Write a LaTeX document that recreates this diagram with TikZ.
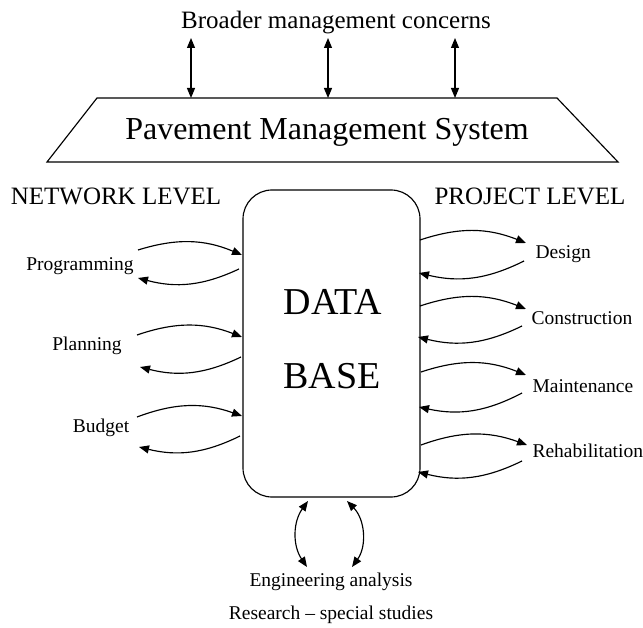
\documentclass[tikz,border=0pt]{standalone}
\usepackage{fontspec}
\setmainfont{Liberation Serif}
\usetikzlibrary{arrows.meta}
\begin{document}
\begin{tikzpicture}[x=1pt,y=-1pt, line width=1.15pt,
  arr/.style={-{Triangle[length=10pt,width=8pt]}},
  darr/.style={{Triangle[length=10pt,width=8pt]}-{Triangle[length=10pt,width=8pt]}},
  big/.style={font=\fontsize{25}{30}\selectfont, inner sep=0pt},
  small/.style={font=\fontsize{19.5}{23}\selectfont, inner sep=0pt},
  huge/.style={font=\fontsize{38}{44}\selectfont, inner sep=0pt},
  lp/.style={bend left=20}]
\useasboundingbox (0,0) rectangle (643,628);
% top
\node[big] (bmc) at (336,23) {Broader management concerns};
\coordinate (t1) at (97,98);
\coordinate (t2) at (557,98);
\coordinate (t3) at (618,162);
\coordinate (t4) at (47,162);
\draw (t1) -- (t2) -- (t3) -- (t4) -- cycle;
\node[font=\fontsize{32}{36}\selectfont, inner sep=0pt] (pms) at (327,132) {Pavement Management System};
\coordinate (u1) at (191,38); \coordinate (d1) at (191,98);
\coordinate (u2) at (328,38); \coordinate (d2) at (328,98);
\coordinate (u3) at (455,38); \coordinate (d3) at (455,98);
\draw[darr] (u1) -- (d1);
\draw[darr] (u2) -- (d2);
\draw[darr] (u3) -- (d3);
% levels
\node[big] (net) at (116,196) {NETWORK LEVEL};
\node[big] (proj) at (530,196) {PROJECT LEVEL};
% data base
\node[draw, rounded corners=29pt, minimum width=177pt, minimum height=307pt, inner sep=0pt] (db) at (331.5,343.5) {};
\node[huge] (data) at (333,302) {DATA};
\node[huge] (base) at (332,376) {BASE};
% left labels
\node[small] (prog) at (80,266) {Programming};
\node[small] (plan) at (87,346) {Planning};
\node[small] (budg) at (101,428) {Budget};
% left arrows
\coordinate (pa) at (138,250); \coordinate (pb) at (242,255);
\coordinate (pc) at (239,269); \coordinate (pd) at (138,278);
\coordinate (la) at (137,335); \coordinate (lb) at (242,337);
\coordinate (lc) at (241,357); \coordinate (ld) at (140,367);
\coordinate (ba) at (137,417); \coordinate (bb) at (242,416);
\coordinate (bc) at (240,436); \coordinate (bd) at (139,447);
\draw[arr] (pa) to[lp] (pb);
\draw[arr] (pc) to[lp] (pd);
\draw[arr] (la) to[lp] (lb);
\draw[arr] (lc) to[lp] (ld);
\draw[arr] (ba) to[lp] (bb);
\draw[arr] (bc) to[lp] (bd);
% right labels
\node[small, anchor=west] (des) at (535,254) {Design};
\node[small, anchor=west] (con) at (531,318) {Construction};
\node[small, anchor=west] (mai) at (532,386) {Maintenance};
\node[small, anchor=west] (reh) at (532,451) {Rehabilitation};
% right arrows
\coordinate (da) at (420,240); \coordinate (db2) at (526,243);
\coordinate (dc) at (524,261); \coordinate (dd) at (419,273);
\coordinate (ca) at (420,306); \coordinate (cb) at (526,309);
\coordinate (cc) at (522,326); \coordinate (cd) at (418,337);
\coordinate (ma) at (421,372); \coordinate (mb) at (526,375);
\coordinate (mc) at (522,393); \coordinate (md) at (419,407);
\coordinate (ra) at (421,445); \coordinate (rb) at (527,445);
\coordinate (rc) at (522,461); \coordinate (rd) at (418,472);
\draw[arr] (da) to[lp] (db2);
\draw[arr] (dc) to[lp] (dd);
\draw[arr] (ca) to[lp] (cb);
\draw[arr] (cc) to[lp] (cd);
\draw[arr] (ma) to[lp] (mb);
\draw[arr] (mc) to[lp] (md);
\draw[arr] (ra) to[lp] (rb);
\draw[arr] (rc) to[lp] (rd);
% bottom
\node[small] (eng) at (331,582) {Engineering analysis};
\node[small] (res) at (331,615) {Research -- special studies};
\coordinate (ea) at (308,501); \coordinate (eb) at (307,567);
\coordinate (ec) at (347,501); \coordinate (ed) at (352,567);
\draw[darr] (ea) to[bend right=35] (eb);
\draw[darr] (ec) to[bend left=40] (ed);
\end{tikzpicture}
\end{document}
